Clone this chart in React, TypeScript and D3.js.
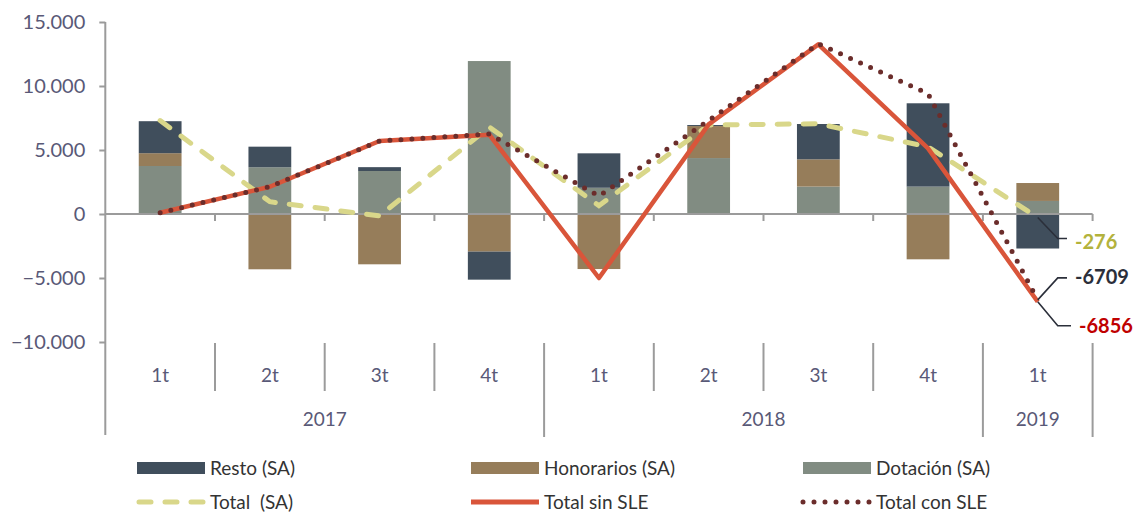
import { useEffect, useRef } from 'react';
import * as d3 from 'd3';

const quarters = ['1t', '2t', '3t', '4t', '1t', '2t', '3t', '4t', '1t'];
const years = ['2017', '2018', '2019'];
const yearSpans = [4, 4, 1];

const dotacion = [3750, 3650, 3360, 11950, 2050, 4370, 2140, 2140, 1020];
const honorarios = [1000, -4320, -3930, -2940, -4300, 2500, 2130, -3540, 1400];
const resto = [2500, 1610, 300, -2190, 2690, 80, 2760, 6510, -2696];

const totalSA = [7300, 960, -150, 6800, 650, 6950, 7050, 5250, -276];
const totalSinSLE = [100, 2130, 5700, 6200, -5000, 7000, 13250, 5130, -6856];
const totalConSLE = [100, 2130, 5700, 6250, 1400, 7300, 13300, 9400, -6709];

const yTicks = [-10000, -5000, 0, 5000, 10000, 15000];

const COLORS = {
  resto: '#404e5c',
  honorarios: '#967d5a',
  dotacion: '#818c82',
  totalSA: '#d9d78a',
  sin: '#d9553a',
  con: '#6b2d2b',
};

const FONT = 'Lato, "Open Sans", sans-serif';
const TEXT = '#595977';
const AXIS = '#9b9b9b';

export default function App() {
  const svgRef = useRef<SVGSVGElement>(null);

  useEffect(() => {
    if (!svgRef.current) return;
    const width = 1141;
    const height = 514;
    const left = 105.3;
    const right = 1092.6;

    const svg = d3.select(svgRef.current);
    svg.selectAll('*').remove();
    svg.attr('width', width).attr('height', height);

    const idx = quarters.map((_, i) => i);
    const x = d3
      .scaleBand<number>()
      .domain(idx)
      .range([left, right])
      .paddingInner(0.61)
      .paddingOuter(0.305);
    const step = x.step();
    const cx = (i: number) => (x(i) ?? 0) + x.bandwidth() / 2;

    const y = d3.scaleLinear().domain([-10000, 15000]).range([342, 22]);

    // stacked bars
    const rows = idx.map((i) => ({
      dotacion: dotacion[i],
      honorarios: honorarios[i],
      resto: resto[i],
    }));
    const keys = ['dotacion', 'honorarios', 'resto'] as const;
    const stack = d3
      .stack<any>()
      .keys(keys as unknown as string[])
      .offset(d3.stackOffsetDiverging);
    const series = stack(rows);

    series.forEach((s) => {
      svg
        .append('g')
        .attr('fill', COLORS[s.key as keyof typeof COLORS])
        .selectAll('rect')
        .data(s)
        .join('rect')
        .attr('x', (_, i) => x(i) ?? 0)
        .attr('width', x.bandwidth())
        .attr('y', (d) => y(Math.max(d[0], d[1])))
        .attr('height', (d) => Math.abs(y(d[0]) - y(d[1])));
    });

    // y axis
    const yAxis = svg
      .append('g')
      .attr('transform', `translate(${left},0)`)
      .call(
        d3
          .axisLeft(y)
          .tickValues(yTicks)
          .tickSize(6)
          .tickPadding(14)
          .tickFormat((d) => (+d === 0 ? '0' : d3.format(',')(+d).replace(/,/g, '.')))
      );
    yAxis.select('.domain').remove();
    yAxis.selectAll('line').attr('stroke', AXIS).attr('stroke-width', 2);
    yAxis
      .selectAll('text')
      .attr('fill', TEXT)
      .style('font-family', FONT)
      .style('font-size', '20px');

    svg
      .append('line')
      .attr('x1', left)
      .attr('x2', left)
      .attr('y1', y(15000))
      .attr('y2', 435)
      .attr('stroke', AXIS)
      .attr('stroke-width', 2);

    // zero line + ticks
    svg
      .append('line')
      .attr('x1', left)
      .attr('x2', right)
      .attr('y1', y(0))
      .attr('y2', y(0))
      .attr('stroke', AXIS)
      .attr('stroke-width', 2);
    svg
      .append('g')
      .selectAll('line')
      .data(d3.range(1, quarters.length + 1))
      .join('line')
      .attr('x1', (i) => left + i * step)
      .attr('x2', (i) => left + i * step)
      .attr('y1', y(0))
      .attr('y2', y(0) + 7)
      .attr('stroke', AXIS)
      .attr('stroke-width', 2);

    // category axis
    const yearStarts = yearSpans.map((_, k) => d3.sum(yearSpans.slice(0, k)));
    svg
      .append('g')
      .selectAll('line')
      .data(d3.range(1, quarters.length + 1))
      .join('line')
      .attr('x1', (i) => left + i * step)
      .attr('x2', (i) => left + i * step)
      .attr('y1', 343)
      .attr('y2', (i) => (yearStarts.includes(i) || i === quarters.length ? 437 : 391))
      .attr('stroke', AXIS)
      .attr('stroke-width', 2);

    svg
      .append('g')
      .selectAll('text')
      .data(quarters)
      .join('text')
      .attr('x', (_, i) => cx(i))
      .attr('y', 375)
      .attr('dy', '0.35em')
      .attr('text-anchor', 'middle')
      .attr('fill', TEXT)
      .style('font-family', FONT)
      .style('font-size', '19px')
      .text((d) => d);

    svg
      .append('g')
      .selectAll('text')
      .data(years)
      .join('text')
      .attr('x', (_, k) => left + (yearStarts[k] + yearSpans[k] / 2) * step)
      .attr('y', 419)
      .attr('dy', '0.35em')
      .attr('text-anchor', 'middle')
      .attr('fill', TEXT)
      .style('font-family', FONT)
      .style('font-size', '19px')
      .text((d) => d);

    // lines
    const line = d3
      .line<number>()
      .x((_, i) => cx(i))
      .y((d) => y(d));

    svg
      .append('path')
      .datum(totalSA)
      .attr('fill', 'none')
      .attr('stroke', COLORS.totalSA)
      .attr('stroke-width', 5)
      .attr('stroke-linecap', 'round')
      .attr('stroke-dasharray', '12 14')
      .attr('d', line);

    svg
      .append('path')
      .datum(totalSinSLE)
      .attr('fill', 'none')
      .attr('stroke', COLORS.sin)
      .attr('stroke-width', 4.5)
      .attr('stroke-linejoin', 'round')
      .attr('d', line);

    svg
      .append('path')
      .datum(totalConSLE)
      .attr('fill', 'none')
      .attr('stroke', COLORS.con)
      .attr('stroke-width', 5)
      .attr('stroke-linecap', 'round')
      .attr('stroke-dasharray', '0 11')
      .attr('d', line);

    // end labels
    const last = quarters.length - 1;
    const lx = cx(last);
    const labels = [
      { value: totalSA[last], color: '#b3b23c', dy: 21, ty: 242, tx: 1075 },
      { value: totalConSLE[last], color: '#2b2f3a', dy: -22, ty: 277, tx: 1075 },
      { value: totalSinSLE[last], color: '#c00000', dy: 24, ty: 326, tx: 1079 },
    ];
    labels.forEach((l) => {
      const py = y(l.value);
      svg
        .append('path')
        .attr('fill', 'none')
        .attr('stroke', '#2b2f3a')
        .attr('stroke-width', 1.6)
        .attr('d', `M${lx},${py}L${lx + 20},${py + l.dy}H${l.tx - 8}`);
      svg
        .append('text')
        .attr('x', l.tx)
        .attr('y', l.ty)
        .attr('dy', '0.35em')
        .attr('fill', l.color)
        .style('font-family', FONT)
        .style('font-size', '20px')
        .style('font-weight', 'bold')
        .text(String(l.value));
    });

    // legend
    const legendItems = [
      { label: 'Resto (SA)', color: COLORS.resto, type: 'rect', x: 137, y: 468 },
      { label: 'Honorarios (SA)', color: COLORS.honorarios, type: 'rect', x: 471, y: 468 },
      { label: 'Dotación (SA)', color: COLORS.dotacion, type: 'rect', x: 803, y: 468 },
      { label: 'Total  (SA)', color: COLORS.totalSA, type: 'dash', x: 137, y: 502 },
      { label: 'Total sin SLE', color: COLORS.sin, type: 'line', x: 471, y: 502 },
      { label: 'Total con SLE', color: COLORS.con, type: 'dot', x: 803, y: 502 },
    ];
    const legend = svg.append('g');
    legendItems.forEach((item) => {
      const g = legend.append('g').attr('transform', `translate(${item.x},${item.y})`);
      if (item.type === 'rect') {
        g.append('rect')
          .attr('x', 0)
          .attr('y', -6)
          .attr('width', 68)
          .attr('height', 12)
          .attr('fill', item.color);
      } else {
        const ln = g
          .append('line')
          .attr('x1', item.type === 'dash' ? 2 : 0)
          .attr('x2', 68)
          .attr('y1', 0)
          .attr('y2', 0)
          .attr('stroke', item.color)
          .attr('stroke-width', 5);
        if (item.type === 'dash') ln.attr('stroke-linecap', 'round').attr('stroke-dasharray', '12 14');
        if (item.type === 'dot') ln.attr('stroke-linecap', 'round').attr('stroke-dasharray', '0 11');
      }
      g.append('text')
        .attr('x', 73)
        .attr('y', 0)
        .attr('dy', '0.35em')
        .attr('fill', '#333333')
        .style('font-family', FONT)
        .style('font-size', '19px')
        .style('white-space', 'pre')
        .text(item.label);
    });
  }, []);

  return (
    <div style={{ position: 'absolute', left: 0, top: 0 }}>
      <svg ref={svgRef} width={1141} height={514} style={{ display: 'block', background: '#fff' }} />
    </div>
  );
}
